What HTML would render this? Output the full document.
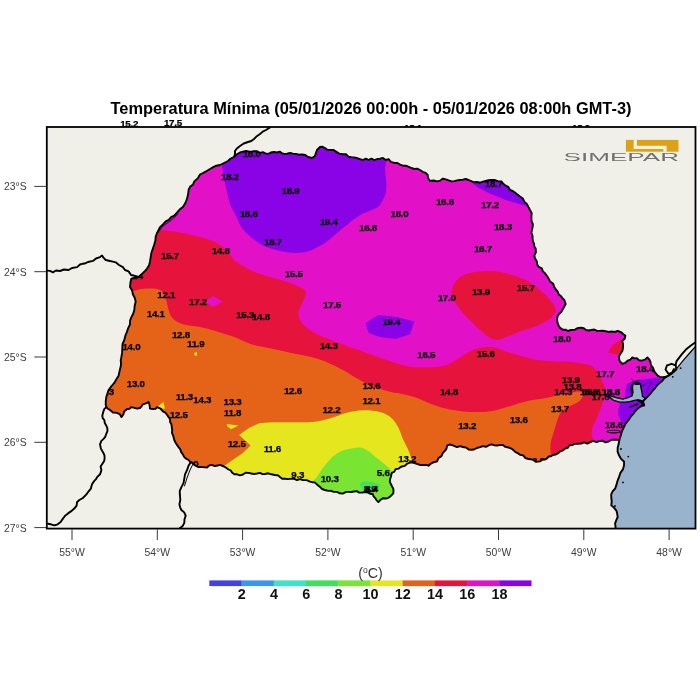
<!DOCTYPE html>
<html lang="pt-BR"><head><meta charset="utf-8"><title>Temperatura Mínima</title>
<style>html,body{margin:0;padding:0;background:#fff}body{width:700px;height:700px;overflow:hidden}svg{display:block}text{font-family:"Liberation Sans",sans-serif}.lb{font-weight:bold;font-size:9.8px;fill:#000;text-anchor:middle;letter-spacing:-0.3px;stroke:#000;stroke-width:0.25px}.tk{font-size:10.4px;fill:#3c3c3c;text-anchor:middle}.cb{font-weight:bold;font-size:14.4px;fill:#111;text-anchor:middle}.bd{fill:none;stroke:#000;stroke-width:1.9;stroke-linejoin:round;stroke-linecap:round}</style></head><body>
<svg width="700" height="700" viewBox="0 0 700 700">
<rect width="700" height="700" fill="#fff"/>
<defs><clipPath id="st"><path d="M131.4,278.6 L135.0,277.7 L138.6,277.0 L143.0,273.0 L145.1,270.9 L147.1,268.6 L149.1,265.2 L150.0,261.4 L150.7,257.1 L151.4,252.9 L152.9,248.6 L154.3,244.3 L155.4,240.5 L155.7,236.6 L157.1,232.9 L158.6,230.0 L160.0,227.1 L163.0,224.4 L165.7,221.4 L168.8,219.8 L171.1,217.1 L174.3,215.7 L177.0,212.6 L179.6,209.6 L182.9,207.1 L185.4,203.0 L187.1,198.6 L188.1,194.3 L188.6,190.0 L190.0,186.8 L193.0,184.6 L194.3,181.4 L197.7,178.4 L200.0,174.5 L203.4,172.9 L206.7,171.0 L210.0,169.0 L213.2,167.2 L216.4,165.7 L220.0,165.0 L224.0,163.0 L228.0,161.0 L230.7,158.5 L234.0,157.0 L237.0,154.3 L240.0,152.5 L243.0,151.7 L246.0,151.0 L248.7,151.4 L251.3,151.6 L254.0,151.3 L257.2,151.3 L260.0,152.8 L262.8,152.1 L265.4,153.3 L268.0,154.0 L270.8,152.5 L274.0,152.0 L277.0,152.5 L280.0,151.6 L281.8,153.2 L284.0,154.0 L287.0,153.7 L290.0,153.0 L293.0,153.6 L296.0,154.0 L299.0,154.6 L302.0,154.4 L305.3,155.0 L308.0,157.0 L312.0,158.0 L315.0,156.0 L315.9,153.0 L317.0,150.0 L320.0,147.0 L322.6,146.8 L325.0,148.0 L327.2,149.8 L330.0,150.0 L333.3,149.9 L336.0,151.6 L339.2,153.6 L342.9,154.3 L346.0,154.3 L348.4,156.6 L351.4,157.1 L354.3,157.4 L357.2,158.2 L360.0,159.1 L362.8,160.1 L365.8,158.6 L368.6,160.0 L371.3,158.7 L374.4,160.2 L377.2,159.0 L380.0,158.6 L382.9,157.9 L385.7,160.0 L388.6,159.1 L390.9,161.8 L394.3,162.9 L397.4,163.0 L400.1,164.6 L402.9,165.7 L405.9,165.7 L408.7,166.8 L411.4,168.0 L414.2,168.9 L417.3,168.6 L420.0,170.0 L422.7,171.8 L425.7,172.9 L427.7,175.0 L428.0,178.0 L430.0,181.0 L433.6,180.5 L437.1,181.4 L440.3,180.6 L442.9,178.6 L445.8,179.3 L448.6,180.3 L451.4,181.4 L454.3,181.1 L457.1,180.4 L460.0,180.0 L462.9,179.7 L465.7,179.0 L468.6,180.0 L471.3,181.2 L474.0,182.3 L477.1,182.0 L480.1,182.7 L482.9,181.6 L485.7,180.9 L488.5,180.3 L491.4,180.0 L494.3,180.0 L497.8,181.1 L501.4,181.4 L503.3,183.8 L505.7,185.7 L508.5,187.2 L510.0,190.0 L512.7,190.9 L514.9,192.6 L517.1,194.3 L520.0,196.5 L522.9,198.6 L524.5,201.9 L527.1,204.3 L528.5,207.2 L530.0,210.0 L531.7,213.3 L531.4,217.1 L531.5,220.8 L532.9,224.3 L532.6,227.2 L531.9,230.0 L531.4,232.9 L532.5,235.6 L532.6,238.5 L532.9,241.4 L534.1,243.7 L534.2,246.4 L535.7,248.6 L535.9,252.3 L534.3,255.7 L535.1,258.6 L536.8,261.2 L537.1,264.3 L538.7,266.9 L541.8,268.4 L542.9,271.4 L545.2,273.5 L547.0,276.0 L548.6,278.6 L550.2,281.6 L553.2,283.7 L554.3,287.1 L555.8,289.5 L557.7,291.6 L558.6,294.3 L560.8,295.9 L562.4,298.1 L564.3,300.0 L565.7,304.0 L562.9,309.0 L561.4,311.8 L559.0,314.0 L557.7,316.1 L557.1,318.6 L557.3,321.9 L558.3,325.1 L560.1,327.9 L562.9,329.7 L565.6,329.7 L568.0,331.0 L571.1,329.9 L574.3,330.0 L577.5,328.2 L581.1,327.8 L583.8,328.3 L586.0,330.0 L588.7,330.5 L591.4,330.0 L594.2,329.5 L596.7,330.7 L599.4,330.9 L602.5,330.6 L605.6,331.2 L608.6,332.0 L611.6,331.5 L614.8,332.0 L617.7,330.9 L621.5,332.5 L623.3,334.2 L625.4,335.5 L624.7,338.8 L622.2,341.0 L623.1,344.1 L623.0,347.3 L622.5,350.7 L620.6,353.6 L619.1,356.1 L619.1,359.1 L620.1,361.8 L622.2,363.8 L625.3,362.8 L627.7,360.6 L630.4,359.6 L632.4,357.5 L634.7,358.4 L637.1,358.3 L639.1,360.3 L641.9,360.6 L645.0,359.6 L647.4,357.5 L649.4,359.6 L650.5,362.2 L651.0,365.3 L652.9,367.7 L654.4,371.6 L656.0,373.6 L657.6,375.6 L659.8,376.9 L662.3,377.1 L665.4,376.9 L663.9,378.7 L661.8,381.3 L659.1,383.4 L656.6,386.0 L654.4,388.9 L652.3,391.2 L650.5,393.6 L646.6,397.6 L642.6,401.5 L644.2,405.4 L641.3,406.2 L638.7,407.8 L634.8,411.7 L633.0,414.2 L630.9,416.4 L629.1,419.3 L626.9,421.9 L625.1,424.5 L623.8,427.4 L622.5,430.1 L621.4,432.9 L620.5,436.5 L619.3,439.9 L615.4,439.6 L611.7,439.7 L608.6,441.5 L605.5,442.3 L602.5,440.7 L599.4,441.0 L596.5,442.1 L593.2,440.8 L590.3,442.2 L587.4,443.6 L584.1,442.3 L581.1,443.5 L578.0,443.7 L574.9,443.9 L572.0,445.1 L569.2,445.4 L567.6,447.9 L565.1,448.6 L563.0,450.4 L560.3,451.3 L558.3,453.1 L555.8,454.5 L553.0,455.0 L551.0,456.2 L548.6,456.5 L547.1,458.4 L545.0,459.5 L542.2,459.8 L540.0,461.4 L536.0,461.9 L533.8,460.2 L531.3,459.4 L528.6,459.0 L525.5,458.1 L523.2,455.4 L520.0,454.8 L517.9,453.2 L515.4,452.1 L513.5,450.2 L511.4,448.6 L508.5,447.5 L505.4,446.9 L502.9,444.9 L499.9,445.1 L497.0,445.5 L494.1,445.2 L491.4,444.3 L488.6,445.4 L486.0,446.8 L483.0,446.1 L480.0,447.1 L476.9,448.0 L474.0,449.5 L471.3,449.7 L468.6,449.6 L466.1,447.6 L463.0,447.0 L460.0,446.1 L457.1,447.1 L454.5,446.1 L452.0,445.0 L449.4,444.5 L447.1,445.7 L446.5,448.6 L444.9,450.9 L442.9,452.9 L441.5,456.1 L438.3,458.1 L437.1,461.4 L433.0,462.5 L430.6,463.8 L428.6,465.7 L425.9,464.9 L423.0,465.0 L420.6,465.1 L418.4,464.4 L416.0,463.6 L413.7,462.8 L410.5,462.4 L407.4,463.6 L404.6,465.9 L401.1,466.7 L398.7,468.6 L395.6,469.1 L394.3,471.7 L391.7,473.0 L391.0,476.2 L390.1,479.3 L389.8,481.8 L390.9,484.0 L392.0,486.4 L393.3,488.7 L393.5,491.0 L393.3,493.4 L391.7,495.0 L390.1,496.6 L388.0,498.1 L385.4,498.5 L382.8,498.2 L380.7,499.7 L378.4,502.1 L376.6,500.3 L375.2,498.1 L373.6,496.4 L372.9,494.2 L370.4,493.8 L368.1,492.6 L365.0,492.0 L361.9,492.6 L359.2,492.6 L356.7,491.1 L354.0,491.5 L351.4,492.0 L348.7,491.9 L346.1,491.9 L343.2,493.5 L339.9,493.4 L336.9,491.9 L333.6,491.9 L331.1,490.8 L328.3,490.9 L325.7,490.3 L322.1,489.0 L319.4,486.4 L317.0,484.4 L314.7,482.4 L312.3,482.2 L310.0,481.6 L306.6,480.1 L302.9,480.0 L299.9,479.2 L297.0,480.2 L294.3,478.9 L291.4,478.6 L288.2,479.1 L285.0,478.8 L282.2,478.8 L280.0,477.1 L277.8,475.3 L275.0,475.0 L271.4,474.3 L268.2,473.3 L265.0,474.0 L262.4,474.1 L260.0,472.9 L257.0,473.5 L254.0,474.0 L251.3,473.5 L248.6,472.9 L245.5,472.8 L243.0,474.5 L240.0,475.3 L237.1,474.3 L234.3,474.2 L232.0,472.5 L230.8,470.5 L228.6,469.5 L226.4,467.9 L224.0,466.5 L220.0,464.9 L217.5,465.5 L215.0,466.0 L211.4,464.9 L208.9,465.7 L207.0,467.5 L202.9,467.1 L200.5,466.9 L198.0,467.0 L194.3,464.9 L192.7,463.0 L190.2,462.0 L188.6,460.0 L186.1,458.7 L184.1,456.9 L182.9,454.3 L181.2,452.1 L180.3,449.3 L178.6,447.1 L177.0,444.9 L175.5,442.5 L174.3,440.0 L173.4,436.4 L172.0,432.9 L172.2,430.0 L171.8,427.2 L171.4,424.3 L170.1,422.0 L170.1,419.3 L168.6,417.1 L167.1,414.8 L165.4,412.7 L162.9,411.4 L160.5,408.6 L157.1,407.1 L155.5,408.9 L153.0,409.0 L150.0,408.6 L149.6,405.2 L148.6,402.0 L145.9,403.4 L142.9,404.3 L141.6,406.3 L140.0,408.0 L137.1,408.6 L134.3,407.8 L131.4,407.1 L129.5,408.7 L127.0,409.0 L124.3,411.4 L123.3,414.5 L121.4,417.1 L119.9,414.3 L117.1,412.9 L113.0,412.5 L110.0,410.0 L107.9,408.8 L106.3,407.1 L105.7,404.3 L105.8,400.7 L106.3,397.1 L107.4,393.5 L108.6,390.0 L111.3,386.4 L114.3,382.9 L116.4,379.3 L118.6,375.7 L119.5,371.4 L120.6,367.1 L121.1,363.8 L120.7,360.4 L121.4,357.1 L122.1,352.9 L122.3,348.6 L122.5,344.1 L124.3,340.0 L125.4,335.6 L127.1,331.4 L128.3,327.8 L130.0,324.3 L130.1,320.6 L131.4,317.1 L133.2,313.7 L134.3,310.0 L134.7,305.7 L135.7,301.4 L134.7,297.7 L132.9,294.3 L132.1,290.4 L130.0,287.1 L130.5,282.0Z"/></clipPath>
<clipPath id="fr"><rect x="46.8" y="127" width="648.7" height="401.6"/></clipPath></defs>
<text x="371" y="114" text-anchor="middle" font-weight="bold" font-size="16.3px" fill="#000" textLength="521" lengthAdjust="spacingAndGlyphs">Temperatura Mínima (05/01/2026 00:00h - 05/01/2026 08:00h GMT-3)</text>
<text class="lb" x="129.1" y="126.7">15.2</text>
<text class="lb" x="172.9" y="126.1">17.5</text>
<text class="lb" x="413.0" y="131.4">18.1</text>
<text class="lb" x="581.0" y="131.4">18.9</text>
<rect x="46.8" y="127" width="648.7" height="401.6" fill="#f0f0e8"/>
<g clip-path="url(#fr)">
<path d="M695.5,346.4 L690.6,352.0 L684.3,359.1 L678.0,366.9 L671.7,374.0 L663.9,378.7 L663.9,378.7 L661.8,381.3 L659.1,383.4 L656.6,386.0 L654.4,388.9 L652.3,391.2 L650.5,393.6 L646.6,397.6 L642.6,401.5 L644.2,405.4 L641.3,406.2 L638.7,407.8 L634.8,411.7 L633.0,414.2 L630.9,416.4 L629.1,419.3 L626.9,421.9 L625.1,424.5 L623.8,427.4 L622.5,430.1 L621.4,432.9 L620.5,436.5 L619.3,439.9 L618.7,443.8 L617.7,447.6 L617.6,451.6 L619.0,455.3 L621.1,458.9 L624.1,461.7 L624.0,465.6 L622.9,469.4 L620.4,472.9 L619.0,477.1 L617.5,480.9 L616.4,484.9 L615.2,488.5 L612.6,491.3 L611.2,494.3 L611.3,497.7 L611.7,501.5 L611.3,505.4 L614.1,507.8 L616.4,510.6 L617.2,513.8 L617.7,517.0 L616.3,520.1 L615.1,523.4 L615.7,528.5 L695.5,528.5Z" fill="#99b3cc"/>
<g clip-path="url(#st)">
<rect x="90" y="130" width="600" height="400" fill="#e211c7"/>
<path d="M222.0,160.0 C222.0,160.9 221.7,162.6 222.0,165.6 C222.3,168.6 223.2,173.6 224.0,178.0 C224.8,182.4 226.0,187.7 227.0,192.0 C228.0,196.3 228.5,200.0 230.0,204.0 C231.5,208.0 234.0,212.0 236.0,216.0 C238.0,220.0 239.3,224.3 242.0,228.0 C244.7,231.7 248.3,235.0 252.0,238.0 C255.7,241.0 259.3,243.8 264.0,246.0 C268.7,248.2 274.7,249.8 280.0,251.0 C285.3,252.2 291.2,253.0 296.0,253.0 C300.8,253.0 305.0,252.2 309.0,251.0 C313.0,249.8 317.0,247.3 320.0,245.7 C323.0,244.1 324.5,243.3 327.1,241.4 C329.7,239.5 332.8,236.7 335.7,234.3 C338.6,231.9 341.4,229.5 344.3,227.1 C347.2,224.7 350.0,222.1 352.9,220.0 C355.8,217.9 358.5,215.9 361.4,214.3 C364.2,212.8 367.1,212.0 370.0,210.7 C372.9,209.4 376.5,208.2 378.6,206.4 C380.8,204.6 381.7,202.2 382.9,200.0 C384.1,197.8 385.1,195.5 385.7,192.9 C386.3,190.3 386.4,187.2 386.4,184.3 C386.4,181.4 385.9,178.4 385.7,175.7 C385.5,173.0 385.1,169.2 385.0,167.9 L391,140 L222,140Z" fill="#8a03e6"/>
<path d="M472.9,182.9 L478.0,176.0 L500.0,176.0 L512.0,186.0 L522.0,195.0 L530.0,207.0 L520.0,204.3 L505.7,200.0 L488.6,192.9 L477.1,187.1Z" fill="#8a03e6"/>
<path d="M365.7,322.9 L378.6,315.1 L397.1,317.1 L414.3,321.4 L410.0,334.3 L395.7,339.1 L380.0,337.1 L368.6,332.9Z" fill="#8a03e6"/>
<path d="M157.0,229.5 C158.5,229.7 161.7,230.0 166.0,230.6 C170.3,231.2 177.3,231.9 183.0,233.0 C188.7,234.1 195.5,235.8 200.0,237.0 C204.5,238.2 206.7,238.7 210.0,240.0 C213.3,241.3 217.0,243.0 220.0,245.0 C223.0,247.0 225.7,249.5 228.0,252.0 C230.3,254.5 231.5,257.7 234.0,260.0 C236.5,262.3 239.2,263.8 243.0,266.0 C246.8,268.2 251.3,270.8 257.0,273.0 C262.7,275.2 270.8,277.1 277.0,279.0 C283.2,280.9 289.2,282.4 294.0,284.5 C298.8,286.6 304.2,288.6 305.7,291.4 C307.2,294.2 304.1,298.1 302.9,301.4 C301.7,304.7 299.1,308.3 298.6,311.4 C298.1,314.5 298.8,317.4 300.0,320.0 C301.2,322.6 302.8,324.7 305.7,327.1 C308.6,329.5 312.3,331.9 317.1,334.3 C321.9,336.7 328.1,339.0 334.3,341.4 C340.5,343.8 347.6,346.2 354.3,348.6 C361.0,351.0 368.1,353.6 374.3,355.7 C380.5,357.8 386.2,359.7 391.4,361.4 C396.6,363.1 401.4,364.7 405.7,365.7 C410.0,366.7 412.3,367.1 417.1,367.3 C421.9,367.5 429.1,367.6 434.3,367.1 C439.6,366.6 443.8,366.2 448.6,364.3 C453.4,362.4 458.1,358.3 462.9,355.7 C467.6,353.1 472.4,350.0 477.1,348.6 C481.9,347.2 486.6,346.6 491.4,347.1 C496.2,347.6 500.9,350.0 505.7,351.4 C510.5,352.8 514.8,354.3 520.0,355.7 C525.2,357.1 531.4,359.1 537.1,360.0 C542.8,360.9 548.6,361.1 554.3,361.4 C560.0,361.7 566.2,361.5 571.4,362.0 C576.6,362.5 582.2,363.5 585.7,364.3 C589.2,365.1 590.7,365.5 592.6,366.8 C594.5,368.1 595.8,370.3 597.1,372.0 C598.4,373.7 599.2,375.1 600.2,377.0 C601.2,378.9 602.5,381.0 603.4,383.4 C604.3,385.8 605.6,388.9 605.7,391.3 C605.8,393.7 604.8,395.2 604.1,397.6 C603.5,400.0 602.7,402.8 601.8,405.4 C600.9,408.0 599.6,410.7 598.6,413.3 C597.6,415.9 596.5,418.8 595.5,421.1 C594.5,423.5 593.0,425.3 592.4,427.4 C591.8,429.5 591.5,431.6 591.6,433.7 C591.7,435.8 592.7,437.9 593.1,440.0 C593.5,442.1 593.9,445.0 594.0,446.0 L594,540 L90,540 L90,229.5Z" fill="#e6133c"/>
<path d="M451.4,292.9 C451.4,289.3 453.3,284.5 455.7,281.4 C458.1,278.3 461.6,276.0 465.7,274.3 C469.8,272.6 474.8,271.9 480.0,271.4 C485.2,270.9 491.4,270.7 497.1,271.4 C502.8,272.1 509.0,274.0 514.3,275.7 C519.5,277.4 524.3,279.0 528.6,281.4 C532.9,283.8 536.4,286.9 540.0,290.0 C543.6,293.1 547.4,296.7 550.0,300.0 C552.6,303.3 555.7,306.9 555.7,310.0 C555.7,313.1 553.1,316.0 550.0,318.6 C546.9,321.2 542.1,323.6 537.1,325.7 C532.1,327.8 525.2,329.5 520.0,331.4 C514.8,333.3 509.5,335.7 505.7,337.1 C501.9,338.5 500.0,340.0 497.1,340.0 C494.2,340.0 491.5,338.8 488.6,337.1 C485.8,335.4 482.9,332.6 480.0,330.0 C477.1,327.4 474.2,324.2 471.4,321.4 C468.5,318.5 465.5,316.0 462.9,312.9 C460.3,309.8 457.6,306.2 455.7,302.9 C453.8,299.6 451.4,296.5 451.4,292.9Z" fill="#e6133c"/>
<path d="M622.0,339.0 L612.0,345.7 L608.1,352.8 L618.3,354.4 L622.0,354.0Z" fill="#e6133c"/>
<path d="M204.5,301.4 L213.0,296.0 L223.0,301.4 L213.0,306.8Z" fill="#e211c7"/>
<path d="M128.0,292.0 C128.6,291.9 128.5,292.0 131.4,291.4 C134.3,290.8 140.9,288.8 145.7,288.6 C150.5,288.4 156.7,288.3 160.0,290.0 C163.3,291.7 164.3,295.3 165.7,298.6 C167.1,301.9 167.4,306.7 168.6,310.0 C169.8,313.3 170.5,316.2 172.9,318.6 C175.3,321.0 178.4,322.9 182.9,324.3 C187.4,325.7 194.3,325.9 200.0,327.1 C205.7,328.3 211.4,329.7 217.1,331.4 C222.8,333.1 228.6,335.0 234.3,337.1 C240.0,339.2 245.2,342.4 251.4,344.3 C257.6,346.2 264.7,347.2 271.4,348.6 C278.1,350.0 284.7,351.5 291.4,352.9 C298.1,354.3 305.2,355.4 311.4,357.1 C317.6,358.8 323.4,360.8 328.6,362.9 C333.9,365.0 338.1,367.4 342.9,370.0 C347.6,372.6 352.4,376.0 357.1,378.6 C361.9,381.2 366.1,383.6 371.4,385.7 C376.6,387.8 383.8,390.1 388.6,391.4 C393.4,392.7 395.7,392.6 400.0,393.5 C404.3,394.4 409.5,395.5 414.3,397.1 C419.1,398.7 423.4,401.0 428.6,402.9 C433.8,404.8 440.0,407.2 445.7,408.6 C451.4,410.0 456.7,410.8 462.9,411.4 C469.1,412.0 477.2,412.2 482.9,412.0 C488.6,411.8 492.4,411.1 497.1,410.0 C501.9,408.9 506.6,407.1 511.4,405.7 C516.2,404.3 520.5,402.6 525.7,401.4 C531.0,400.2 537.2,399.7 542.9,398.6 C548.6,397.5 555.2,396.0 560.0,395.0 C564.8,394.0 568.2,393.2 571.4,392.6 C574.6,392.0 577.1,391.2 579.0,391.5 C580.9,391.8 583.0,392.8 583.0,394.5 C583.0,396.2 581.6,399.4 579.0,401.5 C576.4,403.6 570.5,405.5 567.4,407.4 C564.3,409.3 562.3,410.7 560.6,413.0 C558.9,415.3 558.2,417.8 557.1,421.1 C556.0,424.4 554.8,428.8 553.7,432.6 C552.6,436.4 551.0,440.1 550.5,444.0 C550.0,447.9 550.9,454.0 551.0,456.0 L551,540 L90,540 L90,292Z" fill="#e56318"/>
<path d="M215.0,478.0 L224.0,466.0 L232.6,460.0 L242.9,453.1 L250.6,445.4 L239.1,435.1 L249.7,427.4 L260.0,423.1 C262.0,423.0 266.0,422.4 272.0,422.3 C278.0,422.2 288.5,422.5 296.0,422.3 C303.5,422.1 310.7,422.3 317.1,421.4 C323.5,420.5 329.5,418.5 334.3,417.1 C339.1,415.7 340.9,414.0 345.7,412.9 C350.5,411.8 357.2,410.4 362.9,410.3 C368.6,410.2 375.2,410.7 380.0,412.0 C384.8,413.3 388.3,415.3 391.4,418.0 C394.5,420.7 396.7,424.5 398.6,428.0 C400.5,431.5 401.4,435.7 402.9,439.0 C404.4,442.3 406.1,445.2 407.4,448.0 C408.7,450.8 409.8,453.5 410.6,456.0 C411.5,458.5 412.2,461.8 412.5,463.0 L414,520 L215,520Z" fill="#e6e61f"/>
<path d="M310.0,483.0 C311.1,482.1 314.2,480.1 316.3,477.7 C318.4,475.2 320.2,471.4 322.6,468.3 C325.0,465.2 327.5,461.6 330.4,458.9 C333.3,456.1 336.5,453.5 339.9,451.8 C343.3,450.1 347.5,449.3 350.9,448.6 C354.3,447.9 357.4,447.1 360.3,447.5 C363.2,447.9 365.5,449.4 368.1,451.0 C370.7,452.6 373.4,455.2 376.0,457.3 C378.6,459.4 381.5,461.6 383.9,463.6 C386.2,465.6 388.6,467.5 390.1,469.1 C391.6,470.7 392.5,472.4 393.0,473.0 L400,520 L310,520Z" fill="#7ae432"/>
<path d="M359.5,484.8 L362.6,481.2 L372.9,482.1 L379.9,484.8 L379.1,489.5 L372.9,491.9 L363.4,491.1Z" fill="#3ee05c"/>
<path d="M194.0,353.0 L197.0,352.0 L197.0,355.5 L195.0,356.0Z" fill="#e6e61f"/>
<path d="M157.0,407.0 L163.5,402.0 L165.0,409.0Z" fill="#e6e61f"/>
<path d="M226.6,424.0 L238.6,425.4 L231.0,429.2 L227.5,426.6Z" fill="#e6e61f"/>
<path d="M626.9,383.9 L633.1,381.0 L645.7,379.3 L654.9,378.1 L662.3,378.5 L668.0,377.0 L670.0,395.0 L640.0,430.0 L626.0,428.0 L624.0,425.6 L621.1,421.0 L618.3,415.3 L618.3,409.6 L620.0,403.3 L625.4,399.1 L625.4,392.9 L625.7,388.0Z" fill="#8a03e6"/>
<path d="M633.3,383.5 L636.5,384.3 L640.5,383.8 L641.0,388.0 L642.0,392.5 L642.5,396.5 L645.5,398.3 L643.0,401.5 L640.0,400.5 L637.7,399.9 L634.3,400.4 L629.7,401.6 L625.1,402.1 L619.4,402.1 L613.7,400.4 L609.1,396.6 L609.1,395.3 L611.4,396.2 L617.1,397.8 L622.9,399.0 L627.4,397.8 L632.0,396.0 L632.8,392.5 L632.6,388.0Z" fill="#99b3cc"/>
</g>
<path d="M665.5,369.5 L667.0,365.4 L671.7,363.8 L675.6,365.4 L676.4,369.3 L673.3,372.4 L668.6,374.0Z" fill="#f0f0e8"/>
<g class="bd">
<path d="M131.4,278.6 L135.0,277.7 L138.6,277.0 L143.0,273.0 L145.1,270.9 L147.1,268.6 L149.1,265.2 L150.0,261.4 L150.7,257.1 L151.4,252.9 L152.9,248.6 L154.3,244.3 L155.4,240.5 L155.7,236.6 L157.1,232.9 L158.6,230.0 L160.0,227.1 L163.0,224.4 L165.7,221.4 L168.8,219.8 L171.1,217.1 L174.3,215.7 L177.0,212.6 L179.6,209.6 L182.9,207.1 L185.4,203.0 L187.1,198.6 L188.1,194.3 L188.6,190.0 L190.0,186.8 L193.0,184.6 L194.3,181.4 L197.7,178.4 L200.0,174.5 L203.4,172.9 L206.7,171.0 L210.0,169.0 L213.2,167.2 L216.4,165.7 L220.0,165.0 L224.0,163.0 L228.0,161.0 L230.7,158.5 L234.0,157.0 L237.0,154.3 L240.0,152.5 L243.0,151.7 L246.0,151.0 L248.7,151.4 L251.3,151.6 L254.0,151.3 L257.2,151.3 L260.0,152.8 L262.8,152.1 L265.4,153.3 L268.0,154.0 L270.8,152.5 L274.0,152.0 L277.0,152.5 L280.0,151.6 L281.8,153.2 L284.0,154.0 L287.0,153.7 L290.0,153.0 L293.0,153.6 L296.0,154.0 L299.0,154.6 L302.0,154.4 L305.3,155.0 L308.0,157.0 L312.0,158.0 L315.0,156.0 L315.9,153.0 L317.0,150.0 L320.0,147.0 L322.6,146.8 L325.0,148.0 L327.2,149.8 L330.0,150.0 L333.3,149.9 L336.0,151.6 L339.2,153.6 L342.9,154.3 L346.0,154.3 L348.4,156.6 L351.4,157.1 L354.3,157.4 L357.2,158.2 L360.0,159.1 L362.8,160.1 L365.8,158.6 L368.6,160.0 L371.3,158.7 L374.4,160.2 L377.2,159.0 L380.0,158.6 L382.9,157.9 L385.7,160.0 L388.6,159.1 L390.9,161.8 L394.3,162.9 L397.4,163.0 L400.1,164.6 L402.9,165.7 L405.9,165.7 L408.7,166.8 L411.4,168.0 L414.2,168.9 L417.3,168.6 L420.0,170.0 L422.7,171.8 L425.7,172.9 L427.7,175.0 L428.0,178.0 L430.0,181.0 L433.6,180.5 L437.1,181.4 L440.3,180.6 L442.9,178.6 L445.8,179.3 L448.6,180.3 L451.4,181.4 L454.3,181.1 L457.1,180.4 L460.0,180.0 L462.9,179.7 L465.7,179.0 L468.6,180.0 L471.3,181.2 L474.0,182.3 L477.1,182.0 L480.1,182.7 L482.9,181.6 L485.7,180.9 L488.5,180.3 L491.4,180.0 L494.3,180.0 L497.8,181.1 L501.4,181.4 L503.3,183.8 L505.7,185.7 L508.5,187.2 L510.0,190.0 L512.7,190.9 L514.9,192.6 L517.1,194.3 L520.0,196.5 L522.9,198.6 L524.5,201.9 L527.1,204.3 L528.5,207.2 L530.0,210.0 L531.7,213.3 L531.4,217.1 L531.5,220.8 L532.9,224.3 L532.6,227.2 L531.9,230.0 L531.4,232.9 L532.5,235.6 L532.6,238.5 L532.9,241.4 L534.1,243.7 L534.2,246.4 L535.7,248.6 L535.9,252.3 L534.3,255.7 L535.1,258.6 L536.8,261.2 L537.1,264.3 L538.7,266.9 L541.8,268.4 L542.9,271.4 L545.2,273.5 L547.0,276.0 L548.6,278.6 L550.2,281.6 L553.2,283.7 L554.3,287.1 L555.8,289.5 L557.7,291.6 L558.6,294.3 L560.8,295.9 L562.4,298.1 L564.3,300.0 L565.7,304.0 L562.9,309.0 L561.4,311.8 L559.0,314.0 L557.7,316.1 L557.1,318.6 L557.3,321.9 L558.3,325.1 L560.1,327.9 L562.9,329.7 L565.6,329.7 L568.0,331.0 L571.1,329.9 L574.3,330.0 L577.5,328.2 L581.1,327.8 L583.8,328.3 L586.0,330.0 L588.7,330.5 L591.4,330.0 L594.2,329.5 L596.7,330.7 L599.4,330.9 L602.5,330.6 L605.6,331.2 L608.6,332.0 L611.6,331.5 L614.8,332.0 L617.7,330.9 L621.5,332.5 L623.3,334.2 L625.4,335.5 L624.7,338.8 L622.2,341.0 L623.1,344.1 L623.0,347.3 L622.5,350.7 L620.6,353.6 L619.1,356.1 L619.1,359.1 L620.1,361.8 L622.2,363.8 L625.3,362.8 L627.7,360.6 L630.4,359.6 L632.4,357.5 L634.7,358.4 L637.1,358.3 L639.1,360.3 L641.9,360.6 L645.0,359.6 L647.4,357.5 L649.4,359.6 L650.5,362.2 L651.0,365.3 L652.9,367.7 L654.4,371.6 L656.0,373.6 L657.6,375.6 L659.8,376.9 L662.3,377.1 L665.4,376.9 L663.9,378.7 L661.8,381.3 L659.1,383.4 L656.6,386.0 L654.4,388.9 L652.3,391.2 L650.5,393.6 L646.6,397.6 L642.6,401.5 L644.2,405.4 L641.3,406.2 L638.7,407.8 L634.8,411.7 L633.0,414.2 L630.9,416.4 L629.1,419.3 L626.9,421.9 L625.1,424.5 L623.8,427.4 L622.5,430.1 L621.4,432.9 L620.5,436.5 L619.3,439.9 L615.4,439.6 L611.7,439.7 L608.6,441.5 L605.5,442.3 L602.5,440.7 L599.4,441.0 L596.5,442.1 L593.2,440.8 L590.3,442.2 L587.4,443.6 L584.1,442.3 L581.1,443.5 L578.0,443.7 L574.9,443.9 L572.0,445.1 L569.2,445.4 L567.6,447.9 L565.1,448.6 L563.0,450.4 L560.3,451.3 L558.3,453.1 L555.8,454.5 L553.0,455.0 L551.0,456.2 L548.6,456.5 L547.1,458.4 L545.0,459.5 L542.2,459.8 L540.0,461.4 L536.0,461.9 L533.8,460.2 L531.3,459.4 L528.6,459.0 L525.5,458.1 L523.2,455.4 L520.0,454.8 L517.9,453.2 L515.4,452.1 L513.5,450.2 L511.4,448.6 L508.5,447.5 L505.4,446.9 L502.9,444.9 L499.9,445.1 L497.0,445.5 L494.1,445.2 L491.4,444.3 L488.6,445.4 L486.0,446.8 L483.0,446.1 L480.0,447.1 L476.9,448.0 L474.0,449.5 L471.3,449.7 L468.6,449.6 L466.1,447.6 L463.0,447.0 L460.0,446.1 L457.1,447.1 L454.5,446.1 L452.0,445.0 L449.4,444.5 L447.1,445.7 L446.5,448.6 L444.9,450.9 L442.9,452.9 L441.5,456.1 L438.3,458.1 L437.1,461.4 L433.0,462.5 L430.6,463.8 L428.6,465.7 L425.9,464.9 L423.0,465.0 L420.6,465.1 L418.4,464.4 L416.0,463.6 L413.7,462.8 L410.5,462.4 L407.4,463.6 L404.6,465.9 L401.1,466.7 L398.7,468.6 L395.6,469.1 L394.3,471.7 L391.7,473.0 L391.0,476.2 L390.1,479.3 L389.8,481.8 L390.9,484.0 L392.0,486.4 L393.3,488.7 L393.5,491.0 L393.3,493.4 L391.7,495.0 L390.1,496.6 L388.0,498.1 L385.4,498.5 L382.8,498.2 L380.7,499.7 L378.4,502.1 L376.6,500.3 L375.2,498.1 L373.6,496.4 L372.9,494.2 L370.4,493.8 L368.1,492.6 L365.0,492.0 L361.9,492.6 L359.2,492.6 L356.7,491.1 L354.0,491.5 L351.4,492.0 L348.7,491.9 L346.1,491.9 L343.2,493.5 L339.9,493.4 L336.9,491.9 L333.6,491.9 L331.1,490.8 L328.3,490.9 L325.7,490.3 L322.1,489.0 L319.4,486.4 L317.0,484.4 L314.7,482.4 L312.3,482.2 L310.0,481.6 L306.6,480.1 L302.9,480.0 L299.9,479.2 L297.0,480.2 L294.3,478.9 L291.4,478.6 L288.2,479.1 L285.0,478.8 L282.2,478.8 L280.0,477.1 L277.8,475.3 L275.0,475.0 L271.4,474.3 L268.2,473.3 L265.0,474.0 L262.4,474.1 L260.0,472.9 L257.0,473.5 L254.0,474.0 L251.3,473.5 L248.6,472.9 L245.5,472.8 L243.0,474.5 L240.0,475.3 L237.1,474.3 L234.3,474.2 L232.0,472.5 L230.8,470.5 L228.6,469.5 L226.4,467.9 L224.0,466.5 L220.0,464.9 L217.5,465.5 L215.0,466.0 L211.4,464.9 L208.9,465.7 L207.0,467.5 L202.9,467.1 L200.5,466.9 L198.0,467.0 L194.3,464.9 L192.7,463.0 L190.2,462.0 L188.6,460.0 L186.1,458.7 L184.1,456.9 L182.9,454.3 L181.2,452.1 L180.3,449.3 L178.6,447.1 L177.0,444.9 L175.5,442.5 L174.3,440.0 L173.4,436.4 L172.0,432.9 L172.2,430.0 L171.8,427.2 L171.4,424.3 L170.1,422.0 L170.1,419.3 L168.6,417.1 L167.1,414.8 L165.4,412.7 L162.9,411.4 L160.5,408.6 L157.1,407.1 L155.5,408.9 L153.0,409.0 L150.0,408.6 L149.6,405.2 L148.6,402.0 L145.9,403.4 L142.9,404.3 L141.6,406.3 L140.0,408.0 L137.1,408.6 L134.3,407.8 L131.4,407.1 L129.5,408.7 L127.0,409.0 L124.3,411.4 L123.3,414.5 L121.4,417.1 L119.9,414.3 L117.1,412.9 L113.0,412.5 L110.0,410.0 L107.9,408.8 L106.3,407.1 L105.7,404.3 L105.8,400.7 L106.3,397.1 L107.4,393.5 L108.6,390.0 L111.3,386.4 L114.3,382.9 L116.4,379.3 L118.6,375.7 L119.5,371.4 L120.6,367.1 L121.1,363.8 L120.7,360.4 L121.4,357.1 L122.1,352.9 L122.3,348.6 L122.5,344.1 L124.3,340.0 L125.4,335.6 L127.1,331.4 L128.3,327.8 L130.0,324.3 L130.1,320.6 L131.4,317.1 L133.2,313.7 L134.3,310.0 L134.7,305.7 L135.7,301.4 L134.7,297.7 L132.9,294.3 L132.1,290.4 L130.0,287.1 L130.5,282.0Z"/>
<path d="M47.0,270.6 L50.1,270.9 L52.9,272.4 L56.0,270.5 L60.0,271.0 L64.0,269.5 L68.6,270.0 L72.0,268.0 L77.1,267.1 L80.0,264.5 L82.9,263.7 L85.6,263.2 L88.0,262.0 L92.9,260.9 L96.0,258.5 L100.0,257.1 L102.0,255.5 L103.7,257.9 L105.7,260.0 L110.0,261.0 L112.9,261.6 L115.7,262.3 L119.0,265.0 L122.9,267.1 L125.0,270.0 L128.6,271.4 L131.0,275.0 L134.3,275.7 L138.6,277.0"/>
<path d="M234.0,157.0 L235.0,154.1 L235.0,151.0 L237.2,148.2 L240.0,146.0 L243.7,143.5 L248.0,142.0 L251.3,141.0 L254.0,139.0 L256.8,136.2 L260.0,134.0 L262.7,131.6 L266.0,130.0 L270.0,127.5"/>
<path d="M106.3,407.1 L104.4,408.9 L103.4,411.4 L102.3,415.7 L102.7,418.1 L104.3,420.0 L104.8,423.0 L106.3,425.7 L107.4,428.4 L107.4,431.4 L106.1,434.2 L105.1,437.1 L103.3,439.1 L101.4,440.9 L100.0,444.3 L100.9,448.6 L102.1,450.8 L103.4,452.9 L104.5,455.6 L104.6,458.6 L104.2,460.9 L102.9,462.9 L100.6,466.6 L101.4,470.0 L100.8,472.2 L100.0,474.3 L97.1,477.1 L96.0,479.2 L94.3,480.9 L92.0,484.3 L90.9,488.6 L88.6,491.4 L87.2,493.3 L85.7,495.1 L82.9,498.0 L79.4,500.0 L77.1,502.0 L76.6,505.7 L74.3,508.6 L70.9,511.4 L68.0,513.4 L65.1,515.7 L62.9,518.6 L60.6,522.0 L57.7,524.3 L54.3,525.4 L50.9,524.3 L48.0,523.7"/>
<path d="M190.5,462.5 L188.4,466.1 L187.1,470.0 L185.1,474.1 L184.3,478.6 L183.5,483.1 L181.4,487.1 L179.7,491.2 L180.0,495.7 L180.3,500.0 L179.4,504.3 L180.1,507.3 L181.4,510.0 L184.2,512.4 L185.7,515.7 L184.5,519.2 L184.3,522.9 L182.7,525.9 L180.0,528.0"/>
<path d="M619.3,439.9 L618.7,443.8 L617.7,447.6 L617.6,451.6 L619.0,455.3 L621.1,458.9 L624.1,461.7 L624.0,465.6 L622.9,469.4 L620.4,472.9 L619.0,477.1 L617.5,480.9 L616.4,484.9 L615.2,488.5 L612.6,491.3 L611.2,494.3 L611.3,497.7 L611.7,501.5 L611.3,505.4 L614.1,507.8 L616.4,510.6 L617.2,513.8 L617.7,517.0 L616.3,520.1 L615.1,523.4 L615.7,528.5"/>
<path d="M665.4,376.9 L668.6,375.6 L672.0,373.0 L674.0,369.0"/>
<path d="M675.6,365.4 L676.4,361.4 L681.1,355.1 L685.9,349.6 L690.6,345.7 L695.5,342.2"/>
<path d="M665.5,369.5 L667.0,365.4 L671.7,363.8 L675.6,365.4 L676.4,369.3 L673.3,372.4 L668.6,374.0Z"/>
<path d="M193.0,464.0 L190.0,470.0 L187.0,478.0 L184.5,486.0" stroke-width="1"/>
<path d="M663.9,378.7 L671.7,374.0 L678.0,366.9 L684.3,359.1 L690.6,352.0 L695.5,346.4" stroke-width="1.2"/>
<path d="M633.3,383.5 L636.5,384.3 L640.5,383.8 L641.0,388.0 L642.0,392.5 L642.5,396.5 L645.5,398.3 L643.0,401.5 L640.0,400.5 L637.7,399.9 L634.3,400.4 L629.7,401.6 L625.1,402.1 L619.4,402.1 L613.7,400.4 L609.1,396.6 L609.1,395.3 L611.4,396.2 L617.1,397.8 L622.9,399.0 L627.4,397.8 L632.0,396.0 L632.8,392.5 L632.6,388.0" stroke-width="1.3"/>
<path d="M637.5,400.3 L641,400.6 L643.6,402.6 L643.8,405.6 L642.2,405 L641.8,402.8 Z" stroke-width="1.5"/>
<path d="M630,407 L634,405.5 L637.5,404.2" stroke-width="1.6"/>
<path d="M632.3,385.5 L631.5,389 L632.2,392.5 M633.5,383.2 L636,382.6 L639,383.4" stroke-width="2.4"/>
<path d="M157.5,233.5 L163,226 L171,220.5 L178,214" stroke-width="0.8"/>
<ellipse cx="613.6" cy="431.6" rx="6.5" ry="1.3" stroke-width="1.1"/>
<path d="M652,381 L648.5,388 L646.5,393 M631.5,378.5 L634,381.5 L640,380 M641.5,386 L648,383" stroke-width="0.5"/>
</g>
<circle cx="680.6" cy="368.2" r="0.9" fill="#000"/>
<circle cx="672.8" cy="376.8" r="0.9" fill="#000"/>
<circle cx="628.3" cy="456.6" r="0.9" fill="#000"/>
<circle cx="623.0" cy="482.4" r="0.9" fill="#000"/>
<circle cx="615.0" cy="506.0" r="0.9" fill="#000"/>
<circle cx="621.0" cy="449.0" r="0.9" fill="#000"/>
<g clip-path="url(#st)">
<text class="lb" x="230.0" y="179.7">18.2</text>
<text class="lb" x="290.5" y="194.1">18.9</text>
<text class="lb" x="248.6" y="217.1">18.6</text>
<text class="lb" x="328.6" y="224.7">19.4</text>
<text class="lb" x="273.0" y="244.9">18.7</text>
<text class="lb" x="368.0" y="230.9">16.8</text>
<text class="lb" x="399.5" y="217.0">18.0</text>
<text class="lb" x="293.7" y="277.4">15.5</text>
<text class="lb" x="332.0" y="308.2">17.5</text>
<text class="lb" x="251.6" y="157.3">18.0</text>
<text class="lb" x="444.9" y="204.5">16.6</text>
<text class="lb" x="490.0" y="208.2">17.2</text>
<text class="lb" x="502.9" y="229.7">18.3</text>
<text class="lb" x="482.9" y="252.2">16.7</text>
<text class="lb" x="480.9" y="295.4">13.9</text>
<text class="lb" x="525.7" y="291.1">15.7</text>
<text class="lb" x="446.6" y="300.8">17.0</text>
<text class="lb" x="493.7" y="186.8">18.7</text>
<text class="lb" x="170.0" y="259.4">15.7</text>
<text class="lb" x="220.6" y="253.7">14.8</text>
<text class="lb" x="134.0" y="278.8">12.4</text>
<text class="lb" x="166.3" y="298.2">12.1</text>
<text class="lb" x="198.0" y="305.1">17.2</text>
<text class="lb" x="155.7" y="316.8">14.1</text>
<text class="lb" x="180.9" y="338.2">12.8</text>
<text class="lb" x="195.7" y="346.8">11.9</text>
<text class="lb" x="131.4" y="349.7">14.0</text>
<text class="lb" x="135.7" y="386.5">13.0</text>
<text class="lb" x="105.0" y="394.5">13.3</text>
<text class="lb" x="184.3" y="400.2">11.3</text>
<text class="lb" x="202.3" y="402.5">14.3</text>
<text class="lb" x="232.5" y="405.4">13.3</text>
<text class="lb" x="232.5" y="416.0">11.8</text>
<text class="lb" x="178.6" y="418.2">12.5</text>
<text class="lb" x="236.6" y="447.1">12.5</text>
<text class="lb" x="189.5" y="466.5">12.0</text>
<text class="lb" x="245.1" y="318.2">15.3</text>
<text class="lb" x="260.9" y="319.7">14.8</text>
<text class="lb" x="391.4" y="325.4">19.4</text>
<text class="lb" x="328.6" y="348.8">14.3</text>
<text class="lb" x="371.4" y="389.4">13.6</text>
<text class="lb" x="292.9" y="393.7">12.6</text>
<text class="lb" x="371.4" y="404.0">12.1</text>
<text class="lb" x="331.4" y="412.5">12.2</text>
<text class="lb" x="272.3" y="452.2">11.6</text>
<text class="lb" x="407.3" y="461.8">13.2</text>
<text class="lb" x="562.0" y="342.3">18.0</text>
<text class="lb" x="426.3" y="358.0">16.5</text>
<text class="lb" x="485.7" y="357.4">15.6</text>
<text class="lb" x="449.1" y="395.4">14.8</text>
<text class="lb" x="570.8" y="383.3">13.9</text>
<text class="lb" x="572.5" y="389.5">13.8</text>
<text class="lb" x="563.3" y="395.2">14.3</text>
<text class="lb" x="560.0" y="412.3">13.7</text>
<text class="lb" x="467.1" y="428.8">13.2</text>
<text class="lb" x="518.6" y="423.1">13.6</text>
<text class="lb" x="591.4" y="394.5">16.6</text>
<text class="lb" x="589.0" y="395.1">15.6</text>
<text class="lb" x="535.7" y="464.3">12.3</text>
<text class="lb" x="605.2" y="377.4">17.7</text>
<text class="lb" x="645.0" y="372.1">18.4</text>
<text class="lb" x="610.6" y="395.0">18.8</text>
<text class="lb" x="611.0" y="395.4">13.8</text>
<text class="lb" x="600.4" y="400.3">17.8</text>
<text class="lb" x="613.8" y="428.3">18.6</text>
<text class="lb" x="297.7" y="478.0">9.3</text>
<text class="lb" x="329.6" y="482.1">10.3</text>
<text class="lb" x="383.2" y="476.1">5.6</text>
<text class="lb" x="370.0" y="491.5">8.9</text>
<text class="lb" x="371.5" y="491.7">8.4</text>
</g>
<rect x="625.9" y="139.9" width="52.6" height="11.8" fill="#dda114"/>
<path d="M635.3,139.9 V147.4 H665 V151.7" fill="none" stroke="#f0f0e8" stroke-width="3.3"/>
<text x="563.6" y="161.2" font-size="11.2px" fill="#707070" textLength="115.4" lengthAdjust="spacingAndGlyphs" style="font-weight:normal">SIMEPAR</text>
</g>
<rect x="46.8" y="127" width="648.7" height="401.6" fill="none" stroke="#000" stroke-width="1.8"/>
<path d="M34.3,186.4 H46" stroke="#222" stroke-width="0.9"/>
<text class="tk" x="15.4" y="190.4">23°S</text>
<path d="M34.3,271.7 H46" stroke="#222" stroke-width="0.9"/>
<text class="tk" x="15.4" y="275.7">24°S</text>
<path d="M34.3,357.0 H46" stroke="#222" stroke-width="0.9"/>
<text class="tk" x="15.4" y="361.0">25°S</text>
<path d="M34.3,442.3 H46" stroke="#222" stroke-width="0.9"/>
<text class="tk" x="15.4" y="446.3">26°S</text>
<path d="M34.3,527.6 H46" stroke="#222" stroke-width="0.9"/>
<text class="tk" x="15.4" y="531.6">27°S</text>
<path d="M72.0,529.4 V540" stroke="#222" stroke-width="0.9"/>
<text class="tk" x="72.0" y="555.6">55°W</text>
<path d="M157.3,529.4 V540" stroke="#222" stroke-width="0.9"/>
<text class="tk" x="157.3" y="555.6">54°W</text>
<path d="M242.6,529.4 V540" stroke="#222" stroke-width="0.9"/>
<text class="tk" x="242.6" y="555.6">53°W</text>
<path d="M327.9,529.4 V540" stroke="#222" stroke-width="0.9"/>
<text class="tk" x="327.9" y="555.6">52°W</text>
<path d="M413.2,529.4 V540" stroke="#222" stroke-width="0.9"/>
<text class="tk" x="413.2" y="555.6">51°W</text>
<path d="M498.5,529.4 V540" stroke="#222" stroke-width="0.9"/>
<text class="tk" x="498.5" y="555.6">50°W</text>
<path d="M583.8,529.4 V540" stroke="#222" stroke-width="0.9"/>
<text class="tk" x="583.8" y="555.6">49°W</text>
<path d="M669.1,529.4 V540" stroke="#222" stroke-width="0.9"/>
<text class="tk" x="669.1" y="555.6">48°W</text>
<rect x="209.30" y="580.4" width="32.52" height="5.7" fill="#4242e2"/>
<rect x="241.52" y="580.4" width="32.52" height="5.7" fill="#3c98e6"/>
<rect x="273.74" y="580.4" width="32.52" height="5.7" fill="#3ee2c9"/>
<rect x="305.96" y="580.4" width="32.52" height="5.7" fill="#3ee05c"/>
<rect x="338.18" y="580.4" width="32.52" height="5.7" fill="#7ae432"/>
<rect x="370.40" y="580.4" width="32.52" height="5.7" fill="#e6e61f"/>
<rect x="402.62" y="580.4" width="32.52" height="5.7" fill="#e56318"/>
<rect x="434.84" y="580.4" width="32.52" height="5.7" fill="#e6133c"/>
<rect x="467.06" y="580.4" width="32.52" height="5.7" fill="#e211c7"/>
<rect x="499.28" y="580.4" width="32.22" height="5.7" fill="#8a03e6"/>
<text class="cb" x="241.7" y="598.8">2</text>
<text class="cb" x="273.9" y="598.8">4</text>
<text class="cb" x="306.2" y="598.8">6</text>
<text class="cb" x="338.4" y="598.8">8</text>
<text class="cb" x="370.6" y="598.8">10</text>
<text class="cb" x="402.8" y="598.8">12</text>
<text class="cb" x="435.0" y="598.8">14</text>
<text class="cb" x="467.3" y="598.8">16</text>
<text class="cb" x="499.5" y="598.8">18</text>
<text x="370.5" y="578.3" font-size="14.3px" fill="#333" text-anchor="middle">(<tspan font-size="8.5px" dy="-5.2">o</tspan><tspan dy="5.2">C)</tspan></text>
</svg></body></html>
